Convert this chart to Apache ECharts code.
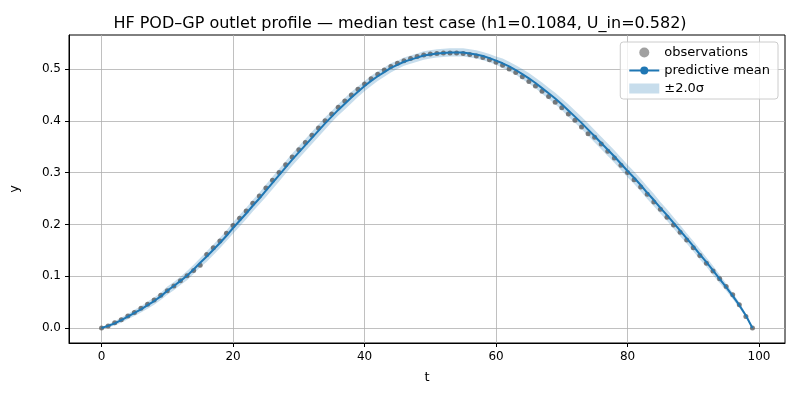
<!DOCTYPE html>
<html><head><meta charset="utf-8">
<script src="https://cdn.jsdelivr.net/npm/echarts@6/dist/echarts.min.js"></script>
<style>html,body{margin:0;padding:0;background:#fff}#c{width:800px;height:400px}</style>
</head><body><div id="c"></div>
<script>
const tValues = Array.from({length:100},(_, i)=>i);
const observations = [0,.004,.010,.016,.023,.030,.038,.046,.054,.063,.072,.081,.091,.101,.111,.121,.142,.155,.168,.183,.198,.212,.226,.241,.255,.270,.285,.300,.315,.330,.344,.358,.372,.386,.400,.413,.426,.438,.450,.461,.471,.481,.490,.498,.505,.511,.516,.520,.524,.527,.529,.530,.531,.531,.531,.530,.528,.525,.522,.518,.513,.507,.500,.493,.485,.476,.467,.457,.447,.436,.425,.413,.401,.388,.375,.368,.355,.341,.328,.314,.300,.286,.272,.258,.243,.229,.214,.199,.185,.170,.155,.140,.125,.110,.095,.080,.064,.045,.022,0];
const predictiveMean = [0,.004,.009,.015,.022,.029,.036,.044,.052,.061,.072,.081,.091,.101,.113,.126,.138,.151,.164,.178,.193,.207,.221,.236,.250,.265,.280,.295,.310,.325,.339,.353,.367,.381,.395,.408,.421,.433,.445,.456,.467,.477,.486,.494,.502,.508,.514,.518,.522,.526,.528,.530,.531,.532,.532,.532,.530,.528,.525,.521,.516,.511,.505,.498,.490,.482,.473,.463,.453,.443,.432,.420,.408,.396,.383,.370,.357,.344,.331,.317,.303,.290,.276,.261,.247,.232,.218,.203,.188,.173,.158,.142,.127,.111,.095,.079,.062,.044,.024,0];
const twoSigma = [.002,.003,.004,.005,.005,.006,.006,.007,.007,.007,.008,.008,.008,.009,.009,.009,.010,.010,.010,.010,.011,.011,.011,.011,.011,.012,.012,.012,.012,.012,.012,.012,.012,.012,.012,.011,.011,.011,.011,.010,.010,.010,.009,.009,.009,.008,.008,.008,.008,.008,.008,.008,.008,.008,.008,.008,.008,.008,.008,.008,.008,.009,.009,.009,.010,.010,.010,.011,.011,.011,.011,.012,.012,.012,.012,.012,.012,.012,.012,.012,.012,.012,.012,.012,.012,.011,.011,.011,.011,.010,.010,.010,.009,.009,.008,.007,.006,.005,.004,.002];
const xTicks = [0,20,40,60,80,100];
const yTicks = [0,0.1,0.2,0.3,0.4,0.5];

const bandData = tValues.map((t,i)=>[t, predictiveMean[i]-twoSigma[i], predictiveMean[i]+twoSigma[i]]);
const chart = echarts.init(document.getElementById('c'));
const font = 'DejaVu Sans';
chart.setOption({
  animation:false,
  textStyle:{fontFamily:font},
  title:{text:'HF POD–GP outlet profile — median test case (h1=0.1084, U_in=0.582)',left:'center',top:11,textStyle:{fontSize:16,fontWeight:'normal',color:'#000',fontFamily:font}},
  grid:{left:66,right:15,top:35,bottom:57,show:true,borderColor:'#000',borderWidth:1},
  legend:{right:22,top:42,orient:'vertical',itemGap:5,padding:[4,8,4,8],borderColor:'#ccc',borderWidth:1,borderRadius:3,backgroundColor:'rgba(255,255,255,0.8)',textStyle:{fontSize:13,color:'#000',fontFamily:font},
    data:[{name:'observations',icon:'circle',itemStyle:{color:'#808080'}},{name:'predictive mean'},{name:'±2.0σ',icon:'rect',itemStyle:{color:'rgba(31,119,180,0.25)'}}],itemWidth:30,itemHeight:10},
  xAxis:{type:'value',min:-4.95,max:103.95,name:'t',nameLocation:'middle',nameGap:28,nameTextStyle:{fontSize:13,color:'#000'},
    axisLine:{onZero:false,lineStyle:{color:'#000'}},axisTick:{customValues:xTicks,length:4,lineStyle:{color:'#000'}},
    axisLabel:{customValues:xTicks,color:'#000',fontSize:12,margin:8},splitLine:{show:true,lineStyle:{color:'#b0b0b0',width:0.8}}},
  yAxis:{type:'value',min:-0.029,max:0.5656,name:'y',nameLocation:'middle',nameGap:48,nameTextStyle:{fontSize:13,color:'#000'},
    axisLine:{show:true,onZero:false,lineStyle:{color:'#000'}},axisTick:{show:true,customValues:yTicks,length:4,lineStyle:{color:'#000'}},
    axisLabel:{customValues:yTicks,color:'#000',fontSize:12,formatter:v=>v.toFixed(1)},splitLine:{show:true,lineStyle:{color:'#b0b0b0',width:0.8}}},
  series:[
    {name:'±2.0σ',type:'custom',data:bandData,encode:{x:0,y:[1,2]},itemStyle:{color:'rgba(31,119,180,0.25)'},z:2,
      renderItem:(params,api)=>{
        if(params.dataIndex!==0) return;
        const up=[],lo=[];
        bandData.forEach(d=>{up.push(api.coord([d[0],d[2]]));lo.push(api.coord([d[0],d[1]]));});
        return {type:'polygon',shape:{points:up.concat(lo.reverse())},style:{fill:'rgba(31,119,180,0.25)'}};
      }},
    {name:'observations',type:'scatter',data:tValues.map((t,i)=>[t,observations[i]]),symbolSize:5,itemStyle:{color:'#555',opacity:0.75},z:3},
    {name:'predictive mean',type:'line',data:tValues.map((t,i)=>[t,predictiveMean[i]]),symbol:'none',lineStyle:{color:'#1f77b4',width:2},itemStyle:{color:'#1f77b4'},z:4}
  ]
});
</script></body></html>
